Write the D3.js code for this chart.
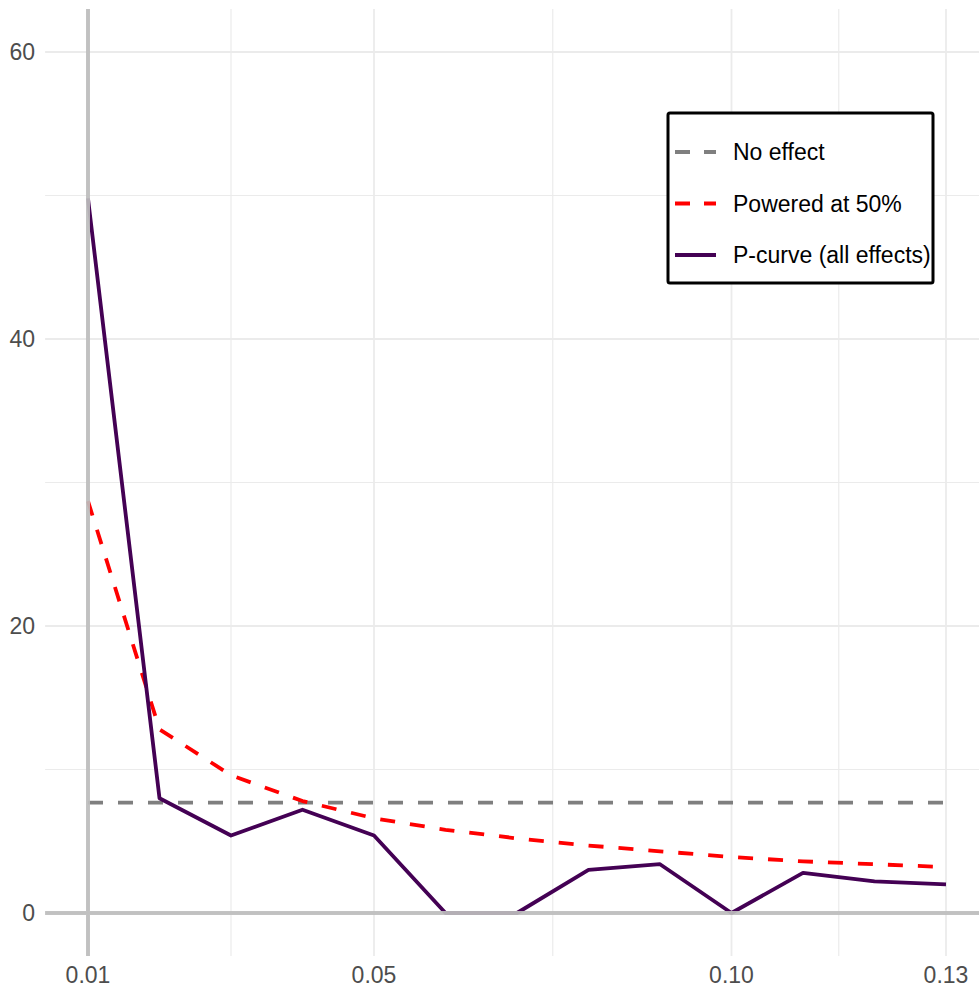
<!DOCTYPE html>
<html lang="en">

<head>
  <meta charset="UTF-8">
  <title>P-curve</title>
  <style>
    body {
      margin: 0;
      background: #fff;
    }

    svg {
      display: block;
    }
  </style>
</head>

<body>
  <svg id="svg" width="979" height="990" font-family="'Liberation Sans', Arial, sans-serif"></svg>

  <script src="https://d3js.org/d3.v7.min.js"></script>
  <script>
    // p-value bins (x) and % of significant results in each bin
    var pValues = [0.01, 0.02, 0.03, 0.04, 0.05, 0.06, 0.07, 0.08, 0.09, 0.10, 0.11, 0.12, 0.13];
    var noEffect = [7.69, 7.69, 7.69, 7.69, 7.69, 7.69, 7.69, 7.69, 7.69, 7.69, 7.69, 7.69, 7.69];
    var powered50 = [28.7, 12.8, 9.6, 7.8, 6.6, 5.8, 5.2, 4.7, 4.3, 3.9, 3.6, 3.4, 3.2];
    var pcurve = [49.8, 8.0, 5.4, 7.2, 5.4, 0, 0, 3.0, 3.4, 0, 2.8, 2.2, 2.0];

    var xMajor = [0.01, 0.05, 0.10, 0.13];
    var xMinor = [0.03, 0.075, 0.115];
    var yMajor = [0, 20, 40, 60];
    var yMinor = [10, 30, 50];

    var seriesNames = ["No effect", "Powered at 50%", "P-curve (all effects)"];

    var svg = d3.select("svg"),
      width = +svg.attr("width"),
      height = +svg.attr("height");

    var x = d3.scaleLinear().domain([0.01, 0.13]).range([88, 946]);
    var y = d3.scaleLinear().domain([0, 60]).range([913, 52]);

    // panel limits, ggplot style 5% expansion
    var px0 = x(0.004),
      px1 = Math.min(width, x(0.136)),
      py0 = y(63),
      py1 = y(-3);

    var series = [
      { name: seriesNames[0], values: noEffect, color: "#7f7f7f", dash: "15,15" },
      { name: seriesNames[1], values: powered50, color: "#ff0000", dash: "15,15" },
      { name: seriesNames[2], values: pcurve, color: "#440154", dash: null }
    ];

    var grid = svg.append("g").attr("fill", "none").attr("stroke", "#ebebeb");

    grid.selectAll(".vminor").data(xMinor).enter().append("line")
      .attr("x1", x).attr("x2", x).attr("y1", py0).attr("y2", py1)
      .attr("stroke-width", 1.2);
    grid.selectAll(".hminor").data(yMinor).enter().append("line")
      .attr("y1", y).attr("y2", y).attr("x1", px0).attr("x2", px1)
      .attr("stroke-width", 1.2);
    grid.selectAll(".vmajor").data(xMajor).enter().append("line")
      .attr("x1", x).attr("x2", x).attr("y1", py0).attr("y2", py1)
      .attr("stroke-width", 1.8);
    grid.selectAll(".hmajor").data(yMajor).enter().append("line")
      .attr("y1", y).attr("y2", y).attr("x1", px0).attr("x2", px1)
      .attr("stroke-width", 1.8);

    var line = d3.line()
      .x(function (d, i) { return x(pValues[i]); })
      .y(function (d) { return y(d); });

    svg.append("g")
      .selectAll("path")
      .data(series)
      .enter().append("path")
      .attr("fill", "none")
      .attr("stroke", function (d) { return d.color; })
      .attr("stroke-width", 3.8)
      .attr("stroke-dasharray", function (d) { return d.dash; })
      .attr("stroke-linejoin", "round")
      .attr("d", function (d) { return line(d.values); });

    // reference lines at x = 0.01 and y = 0
    var ref = svg.append("g").attr("stroke", "#bebebe").attr("stroke-width", 4).attr("opacity", 0.92);
    ref.append("line").attr("x1", x(0.01)).attr("x2", x(0.01)).attr("y1", py0).attr("y2", py1);
    ref.append("line").attr("x1", px0).attr("x2", px1).attr("y1", y(0)).attr("y2", y(0));

    // tick labels
    svg.append("g")
      .attr("font-size", 23)
      .attr("fill", "#4d4d4d")
      .attr("text-anchor", "end")
      .selectAll("text")
      .data(yMajor)
      .enter().append("text")
      .attr("x", px0 - 10)
      .attr("y", y)
      .attr("dy", "0.36em")
      .text(function (d) { return d; });

    svg.append("g")
      .attr("font-size", 23)
      .attr("fill", "#4d4d4d")
      .attr("text-anchor", "middle")
      .selectAll("text")
      .data(xMajor)
      .enter().append("text")
      .attr("x", x)
      .attr("y", py1 + 27)
      .text(function (d) { return d3.format(".2f")(d); });

    // legend
    var legend = svg.append("g").attr("transform", "translate(668,113)");

    legend.append("rect")
      .attr("width", 265)
      .attr("height", 170)
      .attr("rx", 2)
      .attr("fill", "#fff")
      .attr("stroke", "#000")
      .attr("stroke-width", 3);

    var item = legend.selectAll(".item")
      .data(series)
      .enter().append("g")
      .attr("transform", function (d, i) { return "translate(0," + (39 + i * 51.5) + ")"; });

    item.append("line")
      .attr("x1", 7)
      .attr("x2", 48)
      .attr("stroke", function (d) { return d.color; })
      .attr("stroke-width", 3.8)
      .attr("stroke-dasharray", function (d) { return d.dash ? "15,14" : null; });

    item.append("text")
      .attr("x", 65)
      .attr("dy", "0.36em")
      .attr("font-size", 23)
      .attr("fill", "#000")
      .text(function (d) { return d.name; });
  </script>
</body>

</html>
